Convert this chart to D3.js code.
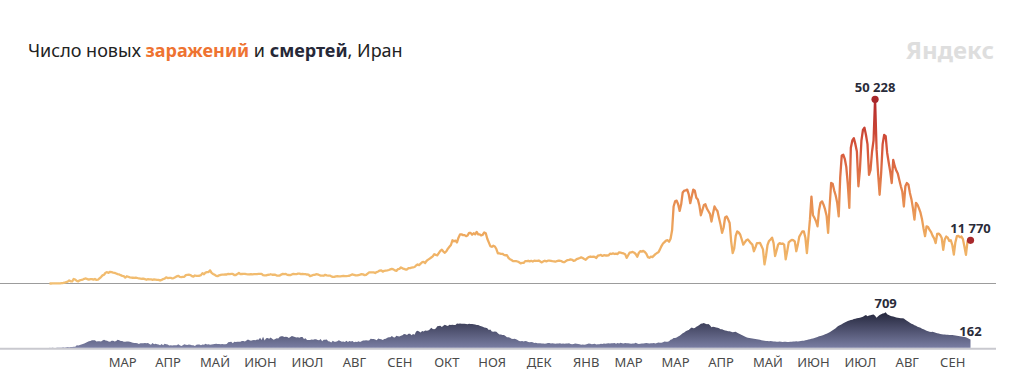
<!DOCTYPE html>
<html>
<head>
<meta charset="utf-8">
<script src="https://cdn.jsdelivr.net/npm/d3@7"></script>
<style>
  body { margin: 0; background: #fff; }
  svg { display: block; font-family: "Noto Sans", "Open Sans", sans-serif; }
</style>
</head>
<body>
<svg id="chart" width="1024" height="384"></svg>
<script>
// first day of the series, one value per day after it
var startDate = new Date(2020, 1, 19);

// new cases per day, thousands
var newCases = [
  0.00,0.00,0.01,0.01,0.02,0.02,0.03,0.04,0.11,0.14,0.21,
  0.39,0.52,0.84,0.59,0.59,1.23,1.08,0.74,0.60,0.88,0.96,1.08,1.29,1.37,1.21,1.05,1.18,1.19,1.05,1.24,0.97,1.03,1.41,1.76,2.21,2.39,2.93,3.08,2.90,3.19,3.11,
  2.99,2.88,2.72,2.56,2.48,2.27,2.09,2.00,1.63,1.97,1.84,1.66,1.62,1.57,1.51,1.61,1.50,1.37,1.34,1.29,1.30,1.19,1.03,1.17,1.13,1.15,0.99,1.11,1.07,1.01,
  0.98,0.80,0.98,1.22,1.32,1.68,1.49,1.53,1.56,1.38,1.48,1.68,1.96,2.10,1.81,1.76,1.81,1.84,2.29,2.35,2.39,2.31,2.02,1.87,2.18,2.06,2.08,2.11,2.28,2.82,2.52,
  2.98,3.12,3.13,3.57,2.89,2.60,2.36,2.10,2.01,2.24,2.37,2.41,2.41,2.47,2.45,2.61,2.56,2.61,2.60,2.32,2.32,2.57,2.87,2.53,2.59,2.63,2.63,2.54,2.49,2.46,
  2.55,2.51,2.54,2.56,2.57,2.61,2.64,2.61,2.26,2.19,2.22,2.35,2.39,2.52,2.39,2.38,2.38,2.17,2.17,2.17,2.43,2.62,2.54,2.62,2.34,2.32,2.30,2.47,2.60,2.55,2.53,
  2.69,2.69,2.55,2.60,2.57,2.56,2.45,2.43,2.02,2.14,2.33,2.35,2.52,2.50,2.32,2.15,2.17,2.12,2.36,2.20,2.13,2.17,1.96,1.82,1.81,1.96,2.02,1.94,1.94,2.00,2.05,
  1.99,2.02,2.06,2.11,2.31,2.49,2.33,2.25,2.21,2.31,2.41,2.57,2.49,2.29,2.38,2.71,3.05,3.05,3.05,3.02,2.85,3.12,3.27,3.52,3.60,3.23,3.46,3.52,3.58,3.68,
  3.83,3.99,3.87,3.57,3.45,3.90,4.01,4.39,4.14,4.00,3.82,3.82,4.21,4.19,4.30,4.40,4.50,4.90,5.20,5.00,5.40,5.80,5.90,5.60,6.20,6.50,6.80,7.10,7.40,8.00,7.80,
  7.70,8.30,8.90,9.20,8.70,8.40,8.80,9.50,10.00,10.50,11.80,11.50,11.70,11.20,12.50,13.40,13.40,13.20,13.20,12.90,13.10,13.80,13.80,13.30,13.70,13.40,14.05,13.40,13.40,13.10,
  13.30,13.90,13.70,12.20,11.20,10.20,10.00,10.30,10.10,9.40,8.20,8.20,8.10,8.10,7.80,7.70,7.70,7.00,6.60,6.40,6.10,6.10,6.10,6.00,5.80,5.50,5.60,5.60,6.10,6.10,6.20,
  6.03,6.19,5.99,6.22,6.14,6.19,6.27,6.02,5.75,6.03,6.21,6.04,6.21,6.23,6.16,6.09,6.06,5.95,6.13,6.22,6.21,6.08,5.84,5.84,6.16,6.39,6.45,6.60,6.48,6.17,6.30,
  6.65,6.80,6.95,7.13,6.96,6.71,6.48,6.92,7.21,7.36,7.27,7.32,7.23,6.96,7.57,7.64,7.80,7.51,7.73,7.64,7.63,7.65,8.11,8.05,8.20,8.05,8.12,8.01,
  8.50,8.40,8.30,8.20,8.00,7.00,7.70,8.40,8.50,8.60,8.40,8.00,7.30,8.30,8.80,8.70,8.90,8.60,8.10,7.20,7.00,7.30,7.20,7.60,8.00,8.30,8.50,9.30,10.20,10.90,11.30,
  11.70,11.80,11.40,12.20,14.50,21.00,22.40,22.60,21.60,19.80,21.60,24.80,25.30,25.40,25.60,24.30,21.90,23.80,25.60,25.30,23.40,22.90,21.30,18.60,20.00,21.40,21.60,20.40,19.70,19.00,
  16.90,19.00,21.00,20.30,19.70,17.80,16.00,13.80,15.20,18.00,18.30,17.50,16.50,11.50,8.30,9.50,13.00,14.20,13.90,13.30,12.00,10.60,11.20,11.80,12.00,11.50,11.00,10.60,8.80,9.80,11.00,
  11.00,11.10,10.20,9.30,5.20,7.50,10.50,11.60,12.00,12.50,11.00,7.50,9.00,10.60,11.00,10.80,10.90,10.60,6.60,8.80,11.20,11.60,11.90,11.80,11.50,8.80,10.60,12.80,13.50,14.20,
  14.20,12.50,8.30,12.80,17.40,23.70,18.60,17.90,17.00,15.60,20.00,22.00,22.40,21.50,20.20,18.50,13.80,21.00,27.40,27.20,25.40,24.00,22.00,18.30,29.00,34.90,35.10,34.00,31.80,27.00,20.60,
  37.00,39.00,39.60,38.00,36.00,26.50,31.00,39.00,41.90,42.50,40.50,38.00,29.60,31.00,36.00,39.00,50.228,36.50,30.00,24.20,30.00,38.00,40.50,40.20,35.60,33.00,30.50,27.40,33.70,32.00,30.80,
  30.00,28.20,26.50,25.00,21.00,26.50,27.40,27.00,24.70,23.00,20.50,17.40,22.00,21.50,20.50,19.30,17.50,15.00,12.90,15.60,15.40,14.60,14.00,13.00,12.30,11.00,13.50,13.60,13.20,12.40,
  9.20,12.00,12.80,12.50,11.60,11.80,10.50,7.90,11.20,12.90,13.00,12.60,12.80,12.10,10.00,7.80,11.40,12.00,11.77
];

// deaths per day
var newDeaths = [
  2,0,2,1,1,3,4,3,4,8,6,
  11,12,11,15,15,17,21,49,43,54,63,75,85,97,113,129,135,147,149,149,123,129,127,122,143,157,144,139,123,117,141,
  138,124,134,158,151,136,133,121,117,122,125,117,111,98,94,92,89,73,87,88,91,94,90,93,76,60,96,71,80,71,
  63,47,74,47,78,68,65,45,48,45,48,48,50,71,48,35,51,69,59,56,62,58,51,50,34,57,63,63,50,63,57,
  81,64,70,59,63,70,72,78,74,75,71,75,71,71,72,107,115,120,87,117,115,119,121,119,134,133,125,144,162,147,
  141,148,154,147,163,160,200,153,221,142,188,194,179,203,179,160,174,188,186,221,229,229,215,221,216,195,212,235,226,216,206,
  208,199,215,212,174,188,156,154,154,162,161,169,171,153,147,174,130,159,157,163,129,124,104,137,119,121,131,148,133,117,125,
  116,137,115,132,123,133,109,119,113,128,115,128,144,146,151,144,144,180,175,172,166,149,184,175,168,155,172,179,201,207,
  211,235,210,205,239,227,225,239,251,272,269,253,279,279,251,274,261,322,337,322,304,335,322,346,337,346,365,398,376,369,386,
  431,434,440,415,440,459,445,434,459,456,462,457,456,483,482,486,480,479,479,475,469,482,476,475,469,464,455,457,441,432,
  421,404,400,392,355,366,323,318,323,319,290,262,262,255,255,234,211,208,197,179,175,178,168,156,136,131,134,123,132,128,112,
  109,112,111,96,97,88,91,90,84,84,79,82,95,92,85,87,85,78,86,84,87,79,82,77,83,84,90,76,70,72,83,
  80,74,67,60,63,59,64,76,83,80,70,72,79,66,71,69,78,73,86,81,84,89,84,90,87,93,78,92,
  82,100,87,82,95,89,87,84,79,86,82,99,85,76,81,83,82,87,93,91,86,88,90,93,84,93,105,97,98,110,122,
  121,117,131,159,171,193,195,206,226,241,263,291,305,327,346,353,384,405,391,397,422,434,455,480,484,496,480,470,474,448,
  411,422,417,404,398,390,372,368,353,345,338,330,329,320,310,315,318,300,285,270,255,240,225,210,200,195,190,185,180,175,170,
  165,160,150,142,140,136,134,130,132,128,126,123,120,118,122,119,115,118,120,115,116,118,120,125,122,127,126,131,133,138,
  140,148,155,162,170,178,186,194,205,215,228,236,245,255,268,280,295,310,330,350,370,390,420,440,454,470,490,505,520,535,545,
  555,560,575,580,590,595,600,610,620,640,655,630,645,650,660,665,640,600,630,655,670,684,690,709,670,655,640,630,625,615,605,
  600,595,590,590,585,560,540,520,500,480,470,450,440,420,410,400,380,370,355,340,330,320,315,320,310,300,290,285,275,270,
  265,262,260,258,256,254,252,250,245,240,235,230,225,218,212,208,195,180,162
];

// month captions under the axis, as printed (one per month start from April 2020)
var monthLabels = ["МАР","АПР","МАЙ","ИЮН","ИЮЛ","АВГ","СЕН","ОКТ","НОЯ","ДЕК","ЯНВ","МАР","МАР","АПР","МАЙ","ИЮН","ИЮЛ","АВГ","СЕН"];

var svg = d3.select("#chart");

var dates = newCases.map(function(d, i) { return d3.timeDay.offset(startDate, i); });
var cases = newCases.map(function(v, i) { return {date: dates[i], v: v}; });
var deaths = newDeaths.map(function(v, i) { return {date: dates[i], v: v}; });

var x = d3.scaleTime().domain(d3.extent(dates)).range([49.5, 970.5]);
var yCases = d3.scaleLinear().domain([0, d3.max(newCases)]).range([283.5, 99.3]);
var yDeaths = d3.scaleLinear().domain([0, d3.max(newDeaths)]).range([347.7, 312.3]);

var fmt = function(n) { return d3.format(",")(n).replace(/,/g, " "); };

// title
var title = svg.append("text").attr("x", 28).attr("y", 57)
  .style("font-size", "18px").attr("fill", "#222");
title.append("tspan").text("Число новых ");
title.append("tspan").attr("fill", "#ee7331").attr("font-weight", "bold").text("заражений");
title.append("tspan").text(" и ");
title.append("tspan").attr("fill", "#262838").attr("font-weight", "bold").text("смертей");
title.append("tspan").text(", Иран");

svg.append("text").attr("x", 994).attr("y", 59).attr("text-anchor", "end")
  .attr("font-weight", "bold").style("font-size", "24px").attr("fill", "#dedede")
  .text("Яндекс");

// gradients
var defs = svg.append("defs");
var cg = defs.append("linearGradient").attr("id", "caseGrad")
  .attr("gradientUnits", "userSpaceOnUse")
  .attr("x1", 0).attr("x2", 0)
  .attr("y1", yCases(0)).attr("y2", yCases(d3.max(newCases)));
[[0, "#f2bf72"], [0.25, "#eeab60"], [0.5, "#e5854d"], [0.75, "#d5533a"], [1, "#b2282b"]].forEach(function(s) {
  cg.append("stop").attr("offset", s[0]).attr("stop-color", s[1]);
});
var dg = defs.append("linearGradient").attr("id", "deathGrad")
  .attr("gradientUnits", "userSpaceOnUse")
  .attr("x1", 0).attr("x2", 0)
  .attr("y1", yDeaths(0)).attr("y2", yDeaths(d3.max(newDeaths)));
dg.append("stop").attr("offset", 0).attr("stop-color", "#797da2");
dg.append("stop").attr("offset", 1).attr("stop-color", "#24263c");

// baselines
svg.append("line").attr("x1", 0).attr("x2", 996)
  .attr("y1", yCases(0)).attr("y2", yCases(0))
  .attr("stroke", "#9c9c9c").attr("stroke-width", 1.2);
svg.append("line").attr("x1", 0).attr("x2", 996)
  .attr("y1", yDeaths(0) + 1).attr("y2", yDeaths(0) + 1)
  .attr("stroke", "#c9c9cf").attr("stroke-width", 2);

// deaths area
var area = d3.area()
  .x(function(d) { return x(d.date); })
  .y0(yDeaths(0))
  .y1(function(d) { return yDeaths(d.v); });
svg.append("path").datum(deaths)
  .attr("d", area)
  .attr("fill", "url(#deathGrad)");

// cases line
var line = d3.line()
  .x(function(d) { return x(d.date); })
  .y(function(d) { return yCases(d.v); });
svg.append("path").datum(cases)
  .attr("d", line)
  .attr("fill", "none")
  .attr("stroke", "url(#caseGrad)")
  .attr("stroke-width", 2.3)
  .attr("stroke-linejoin", "round");

// marked points
var peakCase = cases[d3.maxIndex(newCases)];
var lastCase = cases[cases.length - 1];
var peakDeath = deaths[d3.maxIndex(newDeaths)];
var lastDeath = deaths[deaths.length - 1];

[peakCase, lastCase].forEach(function(d) {
  svg.append("circle").attr("cx", x(d.date)).attr("cy", yCases(d.v)).attr("r", 3.6)
    .attr("fill", "#a8282b");
  svg.append("text").attr("x", x(d.date)).attr("y", yCases(d.v) - 7.5)
    .attr("text-anchor", "middle").attr("font-weight", "bold")
    .style("font-size", "13px").attr("fill", "#2a2c3a")
    .text(fmt(Math.round(d.v * 1000)));
});

[peakDeath, lastDeath].forEach(function(d) {
  svg.append("text").attr("x", x(d.date)).attr("y", yDeaths(d.v) - 4)
    .attr("text-anchor", "middle").attr("font-weight", "bold")
    .style("font-size", "13px").attr("fill", "#2a2c3a")
    .text(fmt(d.v));
});

// month axis
var xAxis = d3.axisBottom(x)
  .tickValues(d3.timeMonth.range(new Date(2020, 3, 1), new Date(2021, 9, 2)))
  .tickFormat(function(d, i) { return monthLabels[i]; })
  .tickSize(0)
  .tickPadding(0);

var gx = svg.append("g")
  .attr("transform", "translate(0,357.3)")
  .call(xAxis);
gx.select(".domain").remove();
gx.selectAll("text")
  .attr("dx", 9)
  .style("font-family", "\"Noto Sans\", sans-serif")
  .style("font-size", "13px")
  .attr("fill", "#4a4a4a");
</script>
</body>
</html>
